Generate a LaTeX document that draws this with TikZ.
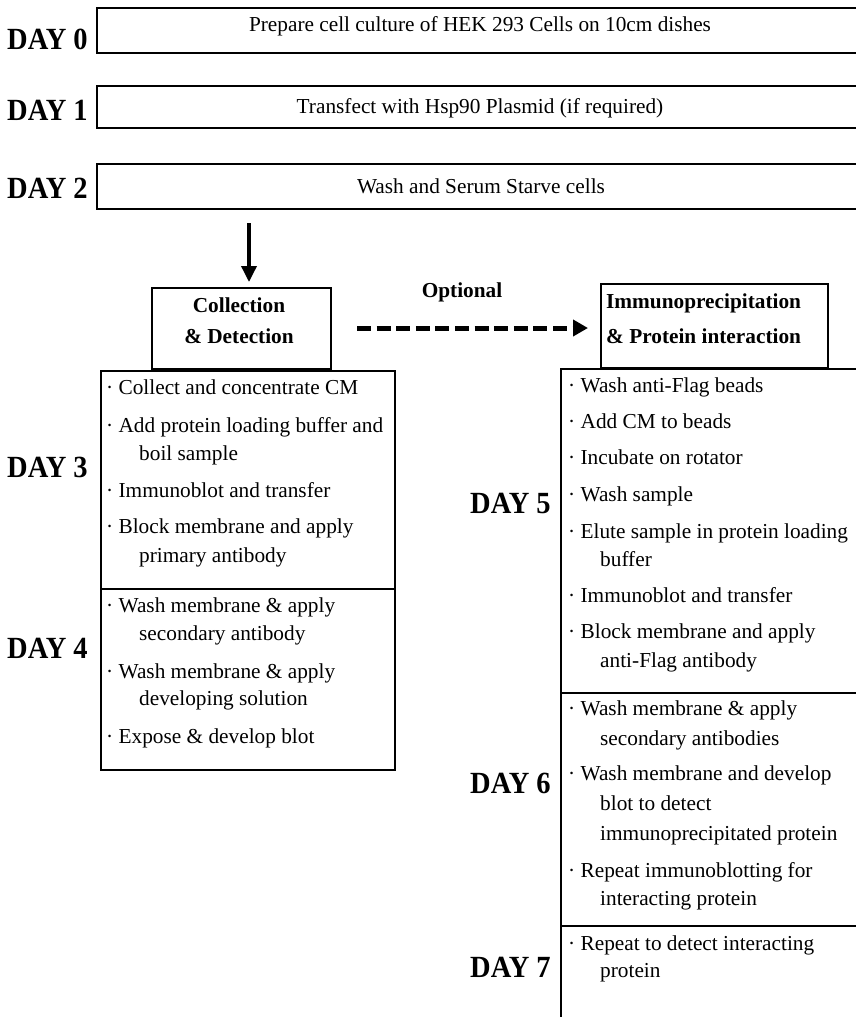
\documentclass[tikz,border=0pt]{standalone}
\usepackage{fontspec}
\setmainfont{Liberation Serif}
\usetikzlibrary{arrows.meta,calc}
\tikzset{
 txt/.style={inner sep=0pt, font=\fontsize{21.3}{25}\selectfont, anchor=base west},
 ctxt/.style={inner sep=0pt, font=\fontsize{21.3}{25}\selectfont, anchor=base},
 btxt/.style={inner sep=0pt, font=\fontsize{21.3}{25}\selectfont\bfseries, anchor=base},
 bltxt/.style={inner sep=0pt, font=\fontsize{21.3}{25}\selectfont\bfseries, anchor=base west},
 daytxt/.style={inner sep=0pt, font=\fontsize{28.5}{30}\selectfont\bfseries, anchor=base west, yscale=1.08},
 box/.style={draw, line width=2.4pt, inner sep=0pt, anchor=north west},
 solidarrow/.style={line width=3.5pt, -{Triangle[length=16pt,width=15pt]}},
 dasharrow/.style={line width=5pt, dash pattern=on 14pt off 5.6pt, -{Triangle[length=15pt,width=16pt]}},
}
\newcommand{\boxat}[5]{\node[box, minimum width=#4pt, minimum height=#5pt] (#1) at (#2,#3) {};}
\newcommand{\stepline}[4]{\node[txt] (#1) at (#2,#3) {#4};}
\begin{document}
\begin{tikzpicture}[x=1pt,y=-1pt]
\useasboundingbox (0,0) rectangle (856,1017);
\clip (0,0) rectangle (856,1017);
\fill[white] (0,0) rectangle (856,1017);

% top bars
\boxat{b0}{96}{7}{780}{45}
\boxat{b1}{96}{85}{780}{42}
\boxat{b2}{96}{163}{780}{45}
\node[ctxt] (t0) at (480,31) {Prepare cell culture of HEK 293 Cells on 10cm dishes};
\node[ctxt] (t1) at (480,113) {Transfect with Hsp90 Plasmid (if required)};
\node[ctxt] (t2) at (481,193) {Wash and Serum Starve cells};
\node[daytxt] (d0) at (7,49) {DAY 0};
\node[daytxt] (d1) at (7,120) {DAY 1};
\node[daytxt] (d2) at (7,198) {DAY 2};

% headers
\boxat{coll}{151}{287}{179}{81}
\node[btxt] (collA) at (239,312) {Collection};
\node[btxt] (collB) at (239,343) {\& Detection};
\boxat{ip}{600}{283}{227}{84}
\node[bltxt] (ipA) at (606,308) {Immunoprecipitation};
\node[bltxt] (ipB) at (606,343) {\& Protein interaction};
\node[btxt] (opt) at (462,297) {Optional};

\coordinate (a0) at (249,223);
\draw[solidarrow, shorten >=5pt] (a0) -- (a0 |- coll.north);
\coordinate (a1) at (357,328);
\draw[dasharrow] (a1) -- ($(a1 -| ip.west)+(-12,0)$);

% left column boxes
\boxat{box3}{100}{370}{294}{218}
\boxat{box4}{100}{588}{294}{181}
\node[daytxt] (d3) at (7,477) {DAY 3};
\node[daytxt] (d4) at (7,658) {DAY 4};
\stepline{l1}{106}{394}{· Collect and concentrate CM}
\stepline{l2}{106}{432}{· Add protein loading buffer and}
\stepline{l2b}{139}{460}{boil sample}
\stepline{l3}{106}{497}{· Immunoblot and transfer}
\stepline{l4}{106}{533}{· Block membrane and apply}
\stepline{l4b}{139}{562}{primary antibody}
\stepline{l5}{106}{612}{· Wash membrane \& apply}
\stepline{l5b}{139}{640}{secondary antibody}
\stepline{l6}{106}{678}{· Wash membrane \& apply}
\stepline{l6b}{139}{705}{developing solution}
\stepline{l7}{106}{743}{· Expose \& develop blot}

% right column boxes
\boxat{box5}{560}{368}{340}{324}
\boxat{box6}{560}{692}{340}{233}
\boxat{box7}{560}{925}{340}{120}
\node[daytxt] (d5) at (470,513) {DAY 5};
\node[daytxt] (d6) at (470,793) {DAY 6};
\node[daytxt] (d7) at (470,977) {DAY 7};
\stepline{r1}{568}{392}{· Wash anti-Flag beads}
\stepline{r2}{568}{428}{· Add CM to beads}
\stepline{r3}{568}{464}{· Incubate on rotator}
\stepline{r4}{568}{501}{· Wash sample}
\stepline{r5}{568}{538}{· Elute sample in protein loading}
\stepline{r5b}{600}{566}{buffer}
\stepline{r6}{568}{602}{· Immunoblot and transfer}
\stepline{r7}{568}{638}{· Block membrane and apply}
\stepline{r7b}{600}{667}{anti-Flag antibody}
\stepline{r8}{568}{715}{· Wash membrane \& apply}
\stepline{r8b}{600}{745}{secondary antibodies}
\stepline{r9}{568}{780}{· Wash membrane and develop}
\stepline{r9b}{600}{810}{blot to detect}
\stepline{r9c}{600}{840}{immunoprecipitated protein}
\stepline{r10}{568}{877}{· Repeat immunoblotting for}
\stepline{r10b}{600}{905}{interacting protein}
\stepline{r11}{568}{950}{· Repeat to detect interacting}
\stepline{r11b}{600}{977}{protein}
\end{tikzpicture}
\end{document}
